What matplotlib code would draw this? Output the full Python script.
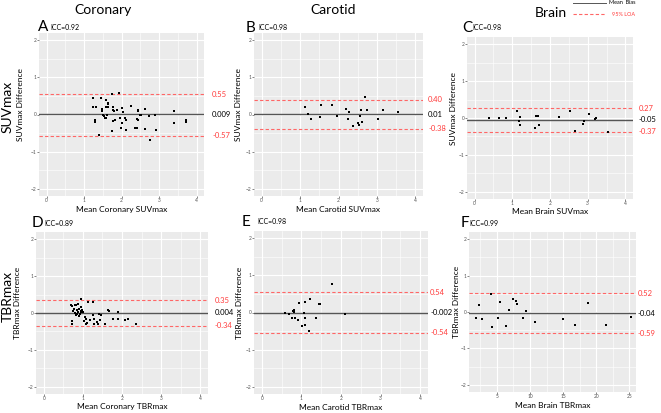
import matplotlib
matplotlib.use("Agg")
import matplotlib.pyplot as plt
from matplotlib.ticker import MultipleLocator

plt.rcParams['font.family'] = ['Lato', 'DejaVu Sans']

# panel data (mean of the two reads, difference)
coronary_suv_mean = [1.25, 1.44, 1.74, 1.92, 1.59, 1.23, 1.31, 1.47, 1.49, 1.50, 1.53, 1.56, 1.58, 1.52, 1.60,
                     1.64, 1.65, 1.58, 1.65, 1.78, 1.76, 1.81, 1.89, 2.02, 2.05, 2.26, 2.43, 2.45, 2.62, 2.48,
                     2.52, 2.74, 2.88, 3.40, 3.41, 3.71, 3.71, 1.28, 1.29, 1.39, 1.74, 1.76, 1.83, 1.97, 2.00,
                     1.99, 2.10, 2.12, 2.13, 2.41, 2.43, 2.36, 2.42, 2.62, 2.76, 2.93]
coronary_suv_diff = [0.45, 0.45, 0.55, 0.58, 0.39, 0.19, 0.19, 0.15, 0.09, 0.00, -0.05, -0.09, -0.09, -0.05, -0.02,
                     0.31, 0.27, 0.21, 0.20, 0.20, 0.12, 0.09, 0.13, 0.18, 0.07, 0.22, 0.13, 0.09, 0.15, 0.00,
                     0.00, -0.03, 0.00, 0.09, -0.23, -0.14, -0.21, -0.15, -0.19, -0.56, -0.45, -0.18, -0.14, -0.09, -0.24,
                     -0.36, -0.09, -0.16, -0.43, -0.11, -0.14, -0.36, -0.36, -0.39, -0.68, -0.42]

carotid_suv_mean = [1.14, 1.21, 1.29, 1.55, 1.51, 1.83, 1.95, 2.20, 2.27, 2.24, 2.39, 2.51, 2.54, 2.57, 2.58,
                    2.61, 2.70, 2.74, 3.04, 3.15, 3.55]
carotid_suv_diff = [0.20, 0.01, -0.12, 0.25, -0.08, 0.26, -0.03, 0.16, 0.08, -0.12, -0.31, -0.24, -0.29, -0.04, 0.12,
                    -0.19, 0.47, 0.11, -0.12, 0.11, 0.08]

brain_suv_mean = [0.39, 0.64, 0.83, 1.12, 1.17, 1.21, 1.21, 1.59, 1.63, 1.69, 1.70, 2.25, 2.53, 2.65, 2.87,
                  2.89, 3.04, 3.18, 3.21, 3.22, 3.54]
brain_suv_diff = [0.01, -0.01, 0.00, 0.18, -0.07, 0.03, -0.20, -0.28, 0.06, 0.06, -0.18, 0.04, 0.18, -0.35, -0.17,
                  -0.09, 0.11, -0.03, -0.01, 0.01, -0.39]

coronary_tbr_mean = [0.96, 0.69, 0.72, 0.79, 0.83, 0.87, 0.74, 0.78, 0.80, 0.84, 0.86, 0.88, 0.90, 0.92, 0.94,
                     0.96, 0.98, 1.00, 0.82, 0.91, 0.95, 1.13, 1.26, 1.05, 1.09, 1.02, 1.17, 1.07, 1.10, 0.71,
                     0.73, 1.26, 1.28, 1.35, 1.28, 1.39, 1.41, 1.47, 1.63, 1.67, 1.43, 1.56, 1.77, 1.90, 1.90,
                     2.07, 2.16, 2.37]
coronary_tbr_diff = [0.37, 0.21, 0.19, 0.23, 0.23, 0.25, 0.05, 0.10, 0.00, 0.08, -0.03, 0.04, 0.12, -0.02, 0.03,
                     0.06, 0.09, 0.02, -0.05, -0.07, 0.15, 0.30, 0.31, -0.11, -0.15, -0.22, -0.20, -0.30, -0.27, -0.22,
                     -0.30, -0.06, -0.15, -0.24, -0.31, -0.29, -0.04, -0.06, 0.09, 0.05, -0.20, -0.29, -0.15, 0.03, -0.15,
                     -0.18, -0.16, -0.30]

carotid_tbr_mean = [0.59, 0.69, 0.76, 0.79, 0.81, 0.82, 0.84, 0.90, 0.94, 1.07, 1.10, 1.10, 1.10, 1.01, 1.18,
                    1.22, 1.37, 1.44, 1.47, 1.76, 2.11]
carotid_tbr_diff = [-0.02, -0.05, -0.14, 0.04, 0.06, 0.01, -0.16, -0.20, 0.25, -0.01, 0.27, -0.16, -0.33, -0.37, -0.50,
                    0.37, -0.14, 0.24, 0.22, 0.76, -0.05]

brain_tbr_mean = [1.9, 2.35, 2.7, 4.15, 4.25, 5.2, 5.55, 6.35, 6.85, 7.45, 7.9, 8.1, 8.95, 9.35, 10.7,
                  14.95, 16.85, 18.7, 21.5, 25.2]
brain_tbr_diff = [-0.17, 0.20, -0.19, 0.50, -0.40, -0.17, 0.27, -0.38, 0.05, 0.37, 0.31, 0.22, -0.17, 0.02, -0.27,
                  -0.19, -0.35, 0.26, -0.35, -0.15]

panel_letters = ["A", "B", "C", "D", "E", "F"]
icc_values = ["0.92", "0.98", "0.98", "0.89", "0.98", "0.99"]
bias_labels = ["0.009", "0.01", "-0.05", "0.004", "-0.002", "-0.04"]
upper_loa_labels = ["0.55", "0.40", "0.27", "0.35", "0.54", "0.52"]
lower_loa_labels = ["-0.57", "-0.38", "-0.37", "-0.34", "-0.54", "-0.59"]
x_labels = ["Mean Coronary SUVmax", "Mean Carotid SUVmax", "Mean Brain SUVmax",
            "Mean Coronary TBRmax", "Mean Carotid TBRmax", "Mean Brain TBRmax"]
y_labels = ["SUVmax Difference"] * 3 + ["TBRmax Difference"] * 3
column_titles = ["Coronary", "Carotid", "Brain"]
row_titles = ["SUVmax", "TBRmax"]

means = [coronary_suv_mean, carotid_suv_mean, brain_suv_mean,
         coronary_tbr_mean, carotid_tbr_mean, brain_tbr_mean]
diffs = [coronary_suv_diff, carotid_suv_diff, brain_suv_diff,
         coronary_tbr_diff, carotid_tbr_diff, brain_tbr_diff]

W, H = 661, 413
fig = plt.figure(figsize=(W / 100, H / 100), dpi=100)


def px_rect(x0, y0, x1, y1):
    return [x0 / W, 1 - y1 / H, (x1 - x0) / W, (y1 - y0) / H]


# pixel boxes of the grey panels, and where the side labels start (axes fraction)
boxes = [(39, 33, 204, 196), (254, 33, 423, 196), (467, 37, 633, 199),
         (36, 232, 208, 394), (254, 231, 428, 394), (469, 232, 636, 392)]
label_x = [1.05, 1.03, 1.036, 1.04, 1.012, 1.012]
ylabel_x = [-0.09, -0.07, -0.06, -0.09, -0.065, -0.055]
letter_pos = [(38, 31), (246, 32), (462, 32), (32, 227), (242, 226), (461, 227)]
icc_pos = [(50, 27), (258, 28), (472, 28), (44, 224), (257, 222), (469, 224)]
xlabel_y = [209, 209, 212, 406, 407, 406]

RED = "#ff3b3b"
for i in range(6):
    x0, y0, x1, y1 = boxes[i]
    ax = fig.add_axes(px_rect(*boxes[i]))
    ax.set_facecolor("#ebebeb")
    if i == 5:
        ax.set_xlim(0.8, 26.0)
        ax.xaxis.set_major_locator(MultipleLocator(5))
        ax.xaxis.set_minor_locator(MultipleLocator(2.5))
    else:
        ax.set_xlim(-0.2, 4.2)
        ax.xaxis.set_major_locator(MultipleLocator(1))
        ax.xaxis.set_minor_locator(MultipleLocator(0.5))
    ax.set_ylim(-2.2, 2.2)
    ax.yaxis.set_major_locator(MultipleLocator(1))
    ax.yaxis.set_minor_locator(MultipleLocator(0.5))
    ax.grid(which="major", color="white", lw=0.8)
    ax.grid(which="minor", color="white", lw=0.4)
    ax.set_axisbelow(True)
    for s in ax.spines.values():
        s.set_visible(False)
    ax.tick_params(which="major", length=1.2, width=0.5, color="#555555", labelsize=3.5,
                   labelcolor="#555555", pad=0.5)
    ax.tick_params(which="minor", length=0)

    bias = float(bias_labels[i])
    up = float(upper_loa_labels[i])
    lo = float(lower_loa_labels[i])
    ax.axhline(bias, color="#555555", lw=1.0, zorder=2)
    ax.axhline(up, color="#ff6666", lw=0.8, ls=(0, (3, 2)), zorder=2)
    ax.axhline(lo, color="#ff6666", lw=0.8, ls=(0, (3, 2)), zorder=2)
    ax.scatter(means[i], diffs[i], s=3, color="black", marker="s", lw=0, zorder=3)

    tr = ax.get_yaxis_transform()
    ax.text(label_x[i], up, upper_loa_labels[i], transform=tr, color=RED, fontsize=5.5,
            va="center", ha="left", clip_on=False)
    ax.text(label_x[i], bias, bias_labels[i], transform=tr, color="black", fontsize=5.5,
            va="center", ha="left", clip_on=False)
    ax.text(label_x[i], lo, lower_loa_labels[i], transform=tr, color=RED, fontsize=5.5,
            va="center", ha="left", clip_on=False)

    ax.set_xlabel(x_labels[i], fontsize=6, va="center")
    ax.xaxis.set_label_coords(0.5, -(xlabel_y[i] - y1) / (y1 - y0))
    ax.set_ylabel(y_labels[i], fontsize=6)
    ax.yaxis.set_label_coords(ylabel_x[i], 0.56)

    lx, ly = letter_pos[i]
    fig.text(lx / W, 1 - ly / H, panel_letters[i], fontsize=11, ha="left", va="baseline")
    cx, cy = icc_pos[i]
    fig.text(cx / W, 1 - cy / H, "ICC=" + icc_values[i], fontsize=5, ha="left", va="center")

# column and row titles
for x, y, t in zip([103, 333, 551], [10, 10, 13], column_titles):
    fig.text(x / W, 1 - y / H, t, fontsize=10, ha="center", va="center")
for y, t in zip([107, 297], row_titles):
    fig.text(8 / W, 1 - y / H, t, fontsize=10, rotation=90, ha="center", va="center")

# legend
fig.add_artist(plt.Line2D([573 / W, 606 / W], [1 - 3 / H, 1 - 3 / H], color="#555555", lw=0.7))
fig.add_artist(plt.Line2D([573 / W, 606 / W], [1 - 14 / H, 1 - 14 / H], color="#ff6666", lw=0.8,
                          ls=(0, (3, 2))))
fig.text(609 / W, 1 - 3 / H, "Mean  Bias", fontsize=4, va="center", ha="left")
fig.text(612 / W, 1 - 15 / H, "95% LOA", fontsize=4, va="center", ha="left", color=RED)

fig.savefig("out.png", dpi=100)
